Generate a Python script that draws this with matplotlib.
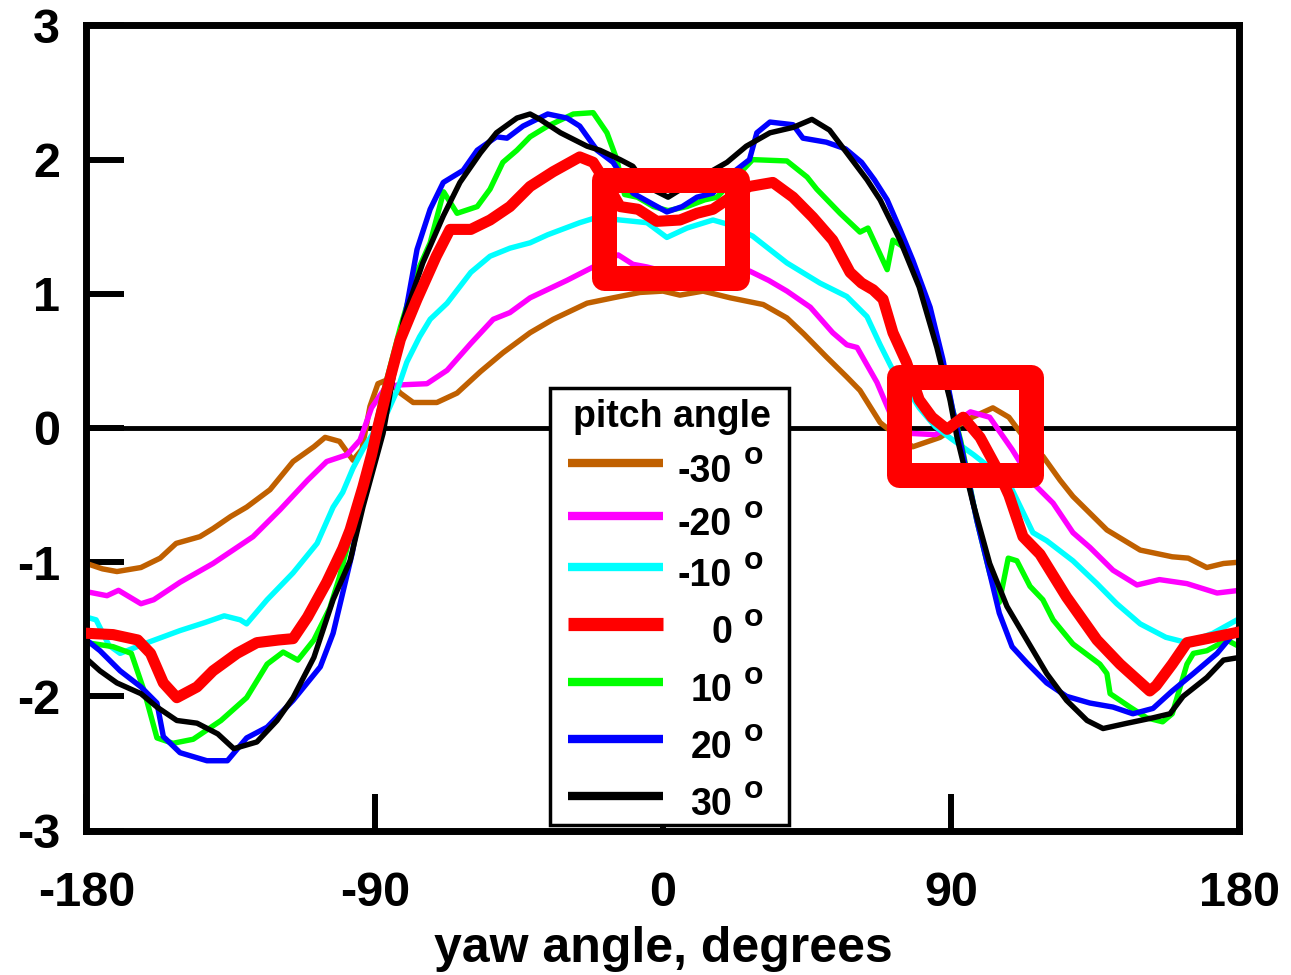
import matplotlib
matplotlib.use("Agg")
import matplotlib.pyplot as plt
from matplotlib.patches import Rectangle

plt.rcParams["font.family"] = ["Liberation Sans", "DejaVu Sans"]
plt.rcParams["font.weight"] = "bold"
plt.rcParams["axes.unicode_minus"] = False

# pitch -30
yaw_m30 = [-180, -175, -170.5, -163, -157, -152, -144.6, -140.5, -135, -130, -122.7, -115.5, -109,
           -105.5, -101, -96.8, -94, -91.5, -89, -86, -82, -78, -70.6, -64.3, -57, -50, -41.5, -34.3,
           -23.7, -15.6, -7.2, 0, 5.3, 12.5, 21, 31.3, 38.7, 44, 51, 57.4, 61.5, 67.8, 72, 78, 86.5,
           94.8, 103, 108, 115.5, 118.6, 124, 128, 138.6, 149, 159, 164, 169.8, 175, 180]
val_m30 = [-1.01, -1.05, -1.07, -1.04, -0.97, -0.86, -0.81, -0.75, -0.66, -0.59, -0.46, -0.25, -0.14,
           -0.07, -0.10, -0.24, -0.16, 0.16, 0.33, 0.36, 0.26, 0.19, 0.19, 0.26, 0.42, 0.56, 0.71, 0.81,
           0.93, 0.97, 1.01, 1.02, 0.99, 1.02, 0.97, 0.92, 0.82, 0.70, 0.53, 0.38, 0.28, 0.04, -0.04,
           -0.14, -0.07, 0.06, 0.15, 0.08, -0.16, -0.21, -0.39, -0.51, -0.76, -0.91, -0.96, -0.97,
           -1.04, -1.01, -1.0]

# pitch -20
yaw_m20 = [-180, -173.6, -170, -163, -159, -150.8, -140.5, -133, -128, -119.6, -111, -105, -98.7, -94.6,
           -91, -87, -83, -73.7, -67.4, -60, -53, -47.8, -41.5, -30, -21.8, -14, -9.4, -5, 0, 10, 20,
           27, 33, 38.7, 46, 53, 57.4, 60.6, 66.8, 71.8, 77, 85, 90, 96, 102, 109, 115.5, 121.8, 128,
           133.3, 140.5, 148, 155, 163.6, 173, 180]
val_m20 = [-1.22, -1.25, -1.21, -1.31, -1.28, -1.15, -1.01, -0.89, -0.81, -0.61, -0.39, -0.25, -0.20, -0.09,
           0.15, 0.29, 0.32, 0.33, 0.43, 0.63, 0.81, 0.86, 0.97, 1.10, 1.20, 1.29, 1.22, 1.20, 1.17, 1.17,
           1.17, 1.17, 1.10, 1.02, 0.90, 0.71, 0.62, 0.60, 0.34, 0.06, -0.04, -0.05, 0.02, 0.12, 0.08,
           -0.16, -0.41, -0.56, -0.78, -0.89, -1.06, -1.17, -1.13, -1.16, -1.23, -1.21]

# pitch -10
yaw_m10 = [-180, -177, -173, -169.5, -161, -150.8, -143, -137, -132, -130, -123.6, -115.5, -108, -103, -100,
           -96.8, -93.7, -90, -86, -83, -80, -76, -72.7, -67.4, -60, -54, -47.8, -41.5, -36, -26, -20.6,
           -13.4, -5, 1.2, 7.5, 15.6, 20, 28, 38.7, 49, 57.4, 63.7, 67.8, 72, 76, 80, 85, 90, 97, 104,
           109, 115.5, 119.8, 128, 135.5, 141.7, 149, 157, 163.6, 171.7, 180]
val_m10 = [-1.41, -1.43, -1.62, -1.68, -1.60, -1.51, -1.45, -1.40, -1.43, -1.46, -1.28, -1.08, -0.86, -0.59,
           -0.48, -0.30, -0.16, -0.02, 0.12, 0.28, 0.49, 0.68, 0.81, 0.93, 1.16, 1.28, 1.34, 1.38, 1.44,
           1.53, 1.57, 1.55, 1.53, 1.42, 1.49, 1.55, 1.52, 1.43, 1.23, 1.08, 0.98, 0.83, 0.62, 0.42, 0.30,
           0.15, 0.01, -0.08, -0.20, -0.33, -0.46, -0.78, -0.84, -0.99, -1.16, -1.31, -1.46, -1.56, -1.60,
           -1.53, -1.42]

# pitch 0
yaw_0 = [-180, -171.7, -164, -160, -156, -151.8, -145.5, -140.5, -133, -126.8, -120, -115.5, -111, -105,
         -100, -97.7, -93.7, -91, -89.3, -86, -82, -76.8, -70.8, -66.5, -60, -54, -47.8, -41.5, -34.3,
         -26, -21.8, -17, -13.4, -7.8, -1.9, 5.3, 10.6, 15.6, 18.7, 23, 27, 34.3, 40.6, 46.8, 53, 58.4,
         62, 65.6, 68.7, 71.8, 76, 80, 84, 88.7, 93.7, 99, 104, 108, 112.4, 117.7, 126, 135.5, 142.7,
         152, 154, 159, 163.6, 169.8, 180]
val_0 = [-1.53, -1.54, -1.58, -1.68, -1.90, -2.01, -1.93, -1.81, -1.68, -1.60, -1.58, -1.57, -1.41, -1.15,
         -0.90, -0.76, -0.44, -0.20, -0.02, 0.30, 0.66, 0.96, 1.28, 1.48, 1.48, 1.55, 1.65, 1.80, 1.91,
         2.02, 1.98, 1.80, 1.65, 1.63, 1.54, 1.55, 1.60, 1.63, 1.68, 1.75, 1.80, 1.83, 1.72, 1.57, 1.40,
         1.16, 1.08, 1.03, 0.96, 0.71, 0.49, 0.21, 0.08, -0.01, 0.08, -0.07, -0.29, -0.50, -0.81, -0.94,
         -1.26, -1.58, -1.76, -1.96, -1.92, -1.76, -1.60, -1.57, -1.52]

# pitch 10
yaw_p10 = [-180, -171.7, -166, -162, -158, -153, -146.7, -138, -130, -123.6, -118.6, -114, -109, -104, -101,
           -96, -92, -88, -82, -77, -72.7, -68.5, -64.3, -58, -54, -50, -45.6, -41.5, -36, -28, -21.8,
           -17.5, -14.4, -12, -8, -3, 1.6, 7.5, 13, 16.9, 22, 28, 38.7, 45, 48, 55.3, 61.5, 64, 70, 71.8,
           75, 78, 83, 87, 90.5, 93, 98, 102, 105, 107.8, 110.5, 114.6, 118.6, 121.8, 128, 136.4, 138.6,
           139.6, 145.8, 151, 156, 159, 163.6, 165.6, 169.8, 176, 180]
val_p10 = [-1.60, -1.63, -1.68, -1.96, -2.31, -2.35, -2.32, -2.18, -2.01, -1.76, -1.67, -1.73, -1.58, -1.34,
           -1.11, -0.65, -0.25, 0.20, 0.75, 1.15, 1.38, 1.76, 1.60, 1.65, 1.78, 1.98, 2.07, 2.17, 2.25,
           2.34, 2.35, 2.20, 2.00, 1.74, 1.72, 1.65, 1.62, 1.65, 1.70, 1.72, 1.85, 2.00, 1.99, 1.87, 1.78,
           1.60, 1.46, 1.49, 1.18, 1.40, 1.35, 1.20, 0.90, 0.50, 0.13, -0.10, -0.69, -1.08, -1.30, -0.97,
           -0.99, -1.18, -1.28, -1.43, -1.61, -1.76, -1.83, -1.98, -2.08, -2.16, -2.19, -2.13, -1.76,
           -1.68, -1.66, -1.58, -1.63]

# pitch 20
yaw_p20 = [-180, -175.8, -169.5, -163, -158, -156, -150.8, -142.4, -136, -130, -123.6, -115.5, -107, -103,
           -97, -93, -90, -86, -81.5, -76.8, -72.7, -68.6, -62.4, -58, -52, -48.7, -43.7, -36, -30, -26,
           -20.6, -15.6, -9.4, 1.2, 6, 10.6, 15.6, 20, 27, 29.3, 33.4, 40.6, 43.7, 51, 57, 62, 66, 70,
           74, 78, 83.4, 87.4, 90.5, 92.7, 98, 102, 105, 109, 113.6, 119.8, 126, 133.3, 140.5, 146.7,
           153, 159, 165.6, 173, 180]
val_p20 = [-1.58, -1.66, -1.81, -1.93, -2.05, -2.30, -2.42, -2.48, -2.48, -2.31, -2.23, -2.03, -1.78, -1.53,
           -0.93, -0.40, -0.05, 0.30, 0.71, 1.33, 1.63, 1.83, 1.92, 2.07, 2.17, 2.16, 2.25, 2.34, 2.31,
           2.25, 2.07, 1.98, 1.75, 1.61, 1.65, 1.72, 1.75, 1.87, 2.00, 2.20, 2.28, 2.26, 2.16, 2.13, 2.08,
           1.98, 1.85, 1.70, 1.48, 1.25, 0.90, 0.51, 0.13, -0.09, -0.69, -1.08, -1.38, -1.63, -1.75,
           -1.90, -2.00, -2.05, -2.08, -2.13, -2.09, -1.96, -1.83, -1.68, -1.48]

# pitch 30
yaw_p30 = [-180, -175.8, -170.5, -163, -158, -151.8, -145.5, -139, -134, -126.8, -120.5, -115.5, -109, -103,
           -97.7, -93.7, -87.4, -84, -81, -75, -68.6, -63.4, -57, -52, -45.6, -41.5, -38.4, -32, -23.7,
           -19.7, -13.4, -9.4, -5, 1.6, 9, 17.8, 20, 26, 33.4, 40.6, 46.5, 52, 57.4, 63.7, 67.8, 74, 80,
           85.5, 89.6, 91.8, 96.8, 102, 107.4, 113.6, 119.8, 126, 132.4, 137.4, 145, 153, 158.3, 162.4,
           169.8, 175, 180]
val_p30 = [-1.72, -1.81, -1.90, -1.98, -2.08, -2.18, -2.20, -2.28, -2.39, -2.34, -2.18, -2.01, -1.71, -1.28,
           -0.99, -0.59, -0.04, 0.42, 0.81, 1.23, 1.58, 1.83, 2.05, 2.20, 2.31, 2.34, 2.30, 2.20, 2.10,
           2.07, 2.00, 1.95, 1.80, 1.72, 1.83, 1.95, 1.98, 2.10, 2.20, 2.24, 2.30, 2.22, 2.05, 1.85, 1.70,
           1.40, 1.05, 0.60, 0.21, -0.07, -0.56, -1.01, -1.33, -1.58, -1.83, -2.03, -2.18, -2.24, -2.20,
           -2.16, -2.13, -2.00, -1.86, -1.73, -1.71]

series = [
    ("-30", yaw_m30, val_m30, "#c06000"),
    ("-20", yaw_m20, val_m20, "#ff00ff"),
    ("-10", yaw_m10, val_m10, "#00ffff"),
    ("0", yaw_0, val_0, "#ff0000"),
    ("10", yaw_p10, val_p10, "#00ff00"),
    ("20", yaw_p20, val_p20, "#0000ff"),
    ("30", yaw_p30, val_p30, "#000000"),
]

x_ticks = [-180, -90, 0, 90, 180]
x_labels = ["-180", "-90", "0", "90", "180"]
y_ticks = [-3, -2, -1, 0, 1, 2, 3]
y_labels = ["-3", "-2", "-1", "0", "1", "2", "3"]

# highlighted regions (yaw min, yaw max, value min, value max)
boxes = [(-18.3, 23.1, 1.12, 1.85), (73.8, 114.9, -0.35, 0.38)]

fig = plt.figure(figsize=(12.91, 9.75), dpi=100)
ax = fig.add_axes([0.0670, 0.1482, 0.8931, 0.8257])

ax.axhline(0, color="black", lw=3.5, zorder=1.5)

for name, xs, ys, col in series:
    if name == "0":
        ax.plot(xs, ys, color=col, lw=8, zorder=3, solid_joinstyle="round")
    else:
        ax.plot(xs, ys, color=col, lw=3.9, zorder=2, solid_joinstyle="round")

for x0, x1, y0, y1 in boxes:
    ax.add_patch(Rectangle((x0, y0), x1 - x0, y1 - y0, fill=False, edgecolor="#ff0000",
                           lw=18, joinstyle="round", zorder=4))

ax.set_xlim(-180, 180)
ax.set_ylim(-3, 3)
ax.set_xticks(x_ticks)
ax.set_xticklabels(x_labels)
ax.set_yticks(y_ticks)
ax.set_yticklabels(y_labels)
ax.tick_params(direction="in", length=27, width=4.3, labelsize=35)
ax.tick_params(axis="x", pad=29)
ax.tick_params(axis="y", pad=19)
for sp in ax.spines.values():
    sp.set_linewidth(5)
ax.set_xlabel("yaw angle, degrees", fontsize=36, fontweight="bold", labelpad=7)

# legend, drawn by hand so the numbers line up on the right
ax.add_patch(Rectangle((0.402, 0.0068), 0.2073, 0.5429, transform=ax.transAxes,
                       facecolor="white", edgecolor="black", lw=2.5, zorder=6, clip_on=False))
ax.text(0.5078, 0.5016, "pitch angle", transform=ax.transAxes, ha="center", va="baseline",
        fontsize=27, fontweight="bold", zorder=8)
leg_y = [0.4571, 0.3907, 0.3273, 0.2565, 0.1845, 0.1137, 0.0429]
for (name, xs, ys, col), ly in zip(series, leg_y):
    lw = 9.5 if name == "0" else 6
    ax.plot([0.4176, 0.5], [ly, ly], transform=ax.transAxes, color=col, lw=lw,
            solid_capstyle="butt", zorder=7, clip_on=False)
    ax.text(0.5598, ly - 0.0236, name, transform=ax.transAxes, ha="right", va="baseline",
            fontsize=27, fontweight="bold", zorder=8)
    ax.text(0.5789, ly - 0.002, "o", transform=ax.transAxes, ha="center", va="baseline",
            fontsize=23, fontweight="bold", zorder=8)

fig.savefig("out.png", dpi=100)
